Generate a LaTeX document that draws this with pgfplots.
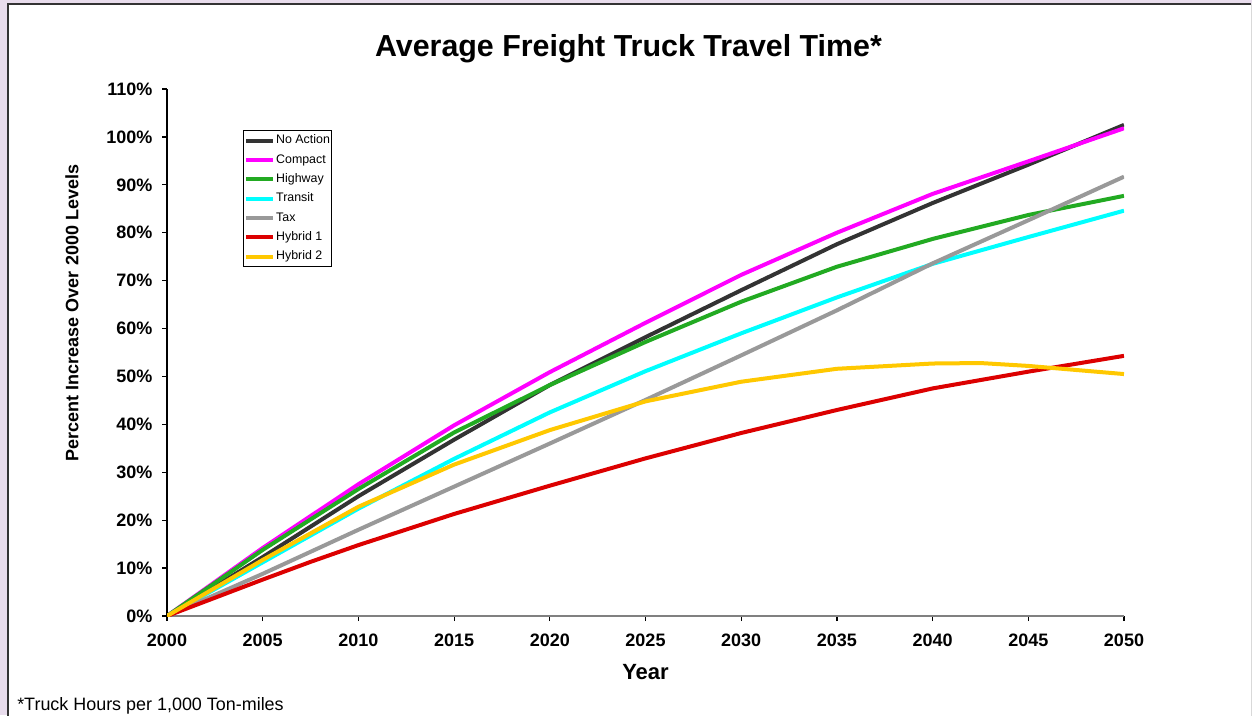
\documentclass[border=0pt]{standalone}
\usepackage{pgfplots}
\pgfplotsset{compat=1.18}
\usepackage{fontspec}
\setmainfont{Liberation Sans}

\definecolor{bgpurple}{RGB}{232,220,236}
\definecolor{noaction}{RGB}{51,51,51}
\definecolor{compact}{RGB}{255,0,255}
\definecolor{highway}{RGB}{34,170,34}
\definecolor{transit}{RGB}{0,255,255}
\definecolor{tax}{RGB}{153,153,153}
\definecolor{hybridone}{RGB}{220,0,0}
\definecolor{hybridtwo}{RGB}{255,200,0}

\begin{document}
\begin{tikzpicture}[x=0.75pt,y=0.75pt]
\clip (0,0) rectangle (1252,715);
\fill[bgpurple] (0,0) rectangle (1252,715);
\fill[white] (8,-10) rectangle (1251,711);
\draw[black!80, line width=1.2pt] (8,-10) -- (8,711) -- (1251,711);
\draw[black!15, line width=0.75pt] (1251,711) -- (1251,-10);

\begin{axis}[
  at={(125.25pt,74.25pt)}, anchor=south west,
  scale only axis, width=717.75pt, height=395.25pt,
  xmin=2000, xmax=2050, ymin=0, ymax=110,
  axis x line*=bottom, axis y line*=left,
  x axis line style={black!50, line width=0.9pt},
  y axis line style={black, line width=0.9pt},
  tick style={black, line width=0.9pt},
  tick align=outside, major tick length=3.75pt,
  xtick={2000,2005,...,2050},
  ytick={0,10,...,110},
  /pgf/number format/assume math mode=true,
  xticklabel style={/pgf/number format/1000 sep=, yshift=-6.2pt},
  yticklabel style={xshift=-3.75pt},
  yticklabel={\pgfmathprintnumber{\tick}\%},
  tick label style={font=\fontsize{13.5}{16}\selectfont\bfseries},
  xlabel={Year},
  xlabel style={at={(axis description cs:0.5,-0.1063)}, anchor=center,
    font=\fontsize{16.5}{19}\selectfont\bfseries},
  ylabel={Percent Increase Over 2000 Levels},
  ylabel style={at={(axis description cs:-0.0993,0.575)}, anchor=center,
    font=\fontsize{13.5}{16}\selectfont\bfseries},
  every axis plot/.append style={line width=3pt, line join=round},
  legend style={at={(axis description cs:0.0794,0.922)}, anchor=north west,
    draw=black, line width=0.75pt, fill=white,
    font=\fontsize{9.3}{11}\selectfont,
    inner xsep=0.5pt, inner ysep=2pt, row sep=3.5pt,
    nodes={inner sep=1pt, text height=7pt, text depth=2pt},
    cells={anchor=west}},
  legend image code/.code={\draw[#1,line width=3pt] (0pt,0pt) -- (20pt,0pt);},
]
\addplot[noaction] coordinates {
  (2000,0) (2005,12.3) (2010,25.0) (2015,36.8) (2020,48.2) (2025,58.2)
  (2030,68.0) (2035,77.6) (2040,86.2) (2045,94.2) (2050,102.5)};
\addlegendentry{No Action}
\addplot[compact] coordinates {
  (2000,0) (2005,14.2) (2010,27.5) (2015,39.8) (2020,50.9) (2025,61.2)
  (2030,71.2) (2035,80.0) (2040,88.1) (2045,94.9) (2050,101.8)};
\addlegendentry{Compact}
\addplot[highway] coordinates {
  (2000,0) (2005,13.8) (2010,26.5) (2015,38.3) (2020,48.2) (2025,57.2)
  (2030,65.6) (2035,72.9) (2040,78.7) (2045,83.7) (2050,87.7)};
\addlegendentry{Highway}
\addplot[transit] coordinates {
  (2000,0) (2005,11.2) (2010,22.4) (2015,32.8) (2020,42.5) (2025,51.1)
  (2030,59.0) (2035,66.5) (2040,73.5) (2045,79.1) (2050,84.6)};
\addlegendentry{Transit}
\addplot[tax] coordinates {
  (2000,0) (2005,8.8) (2010,18.0) (2015,27.0) (2020,36.0) (2025,45.1)
  (2030,54.4) (2035,63.8) (2040,73.6) (2045,82.6) (2050,91.7)};
\addlegendentry{Tax}
\addplot[hybridone] coordinates {
  (2000,0) (2005,7.6) (2007.5,11.3) (2010,14.8) (2015,21.3) (2020,27.2)
  (2025,32.9) (2030,38.2) (2035,43.0) (2040,47.5) (2045,51.0) (2050,54.3)};
\addlegendentry{Hybrid 1}
\addplot[hybridtwo] coordinates {
  (2000,0) (2005,11.7) (2010,22.8) (2015,31.6) (2020,38.8) (2025,44.8)
  (2030,48.9) (2035,51.6) (2040,52.7) (2042.5,52.8) (2045,52.2) (2050,50.5)};
\addlegendentry{Hybrid 2}
\end{axis}

\node[anchor=base, inner sep=0pt, font=\fontsize{22.8}{27}\selectfont\bfseries]
  at (628.5,658) {Average Freight Truck Travel Time*};
\node[anchor=base west, inner sep=0pt, font=\fontsize{13.45}{16}\selectfont]
  at (17,5) {*Truck Hours per 1,000 Ton-miles};
\end{tikzpicture}
\end{document}
